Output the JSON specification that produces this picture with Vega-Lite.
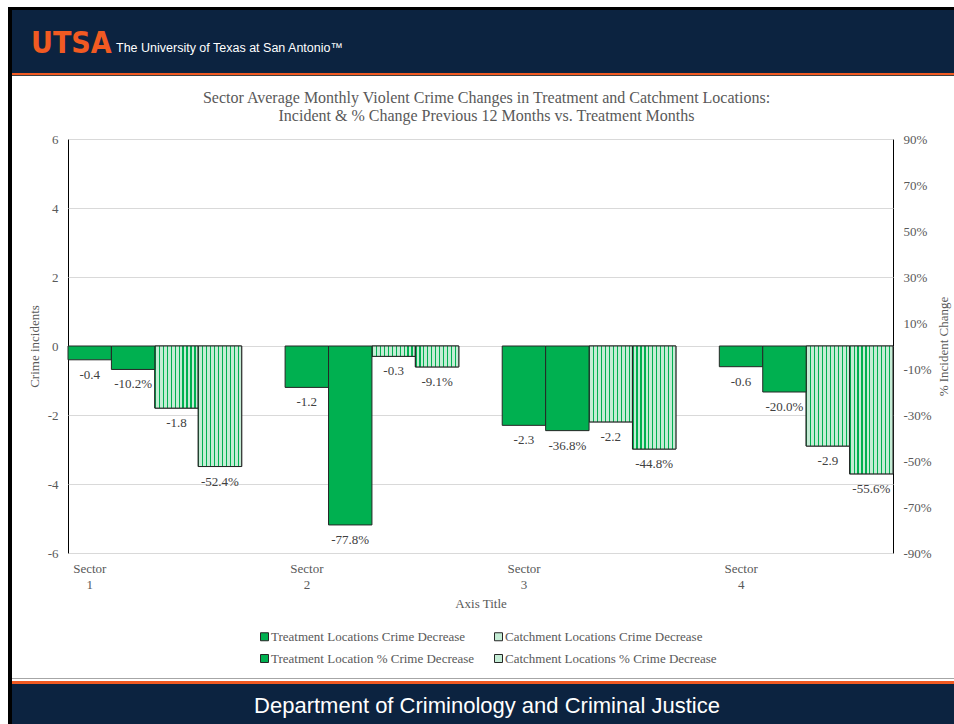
{
  "$schema": "https://vega.github.io/schema/vega-lite/v6.json",
  "background": "white",
  "padding": {"left": 8, "top": 7, "right": 0, "bottom": 0},
  "spacing": 0,
  "config": {
    "locale": {"number": {"decimal": ".", "thousands": ",", "grouping": [3], "currency": ["$", ""], "minus": "-"}},
    "view": {"stroke": "#000000", "strokeWidth": 1},
    "axis": {"labelFont": "Liberation Serif, Times New Roman, serif", "titleFont": "Liberation Serif, Times New Roman, serif", "labelColor": "#595959", "titleColor": "#595959", "labelFontSize": 13, "titleFontSize": 13, "titleFontWeight": "normal", "domain": false, "ticks": false},
    "legend": {"labelFont": "Liberation Serif, Times New Roman, serif", "labelFontSize": 13, "labelColor": "#595959", "symbolType": "square", "symbolSize": 64, "symbolStrokeColor": "#262626", "symbolStrokeWidth": 1, "labelLimit": 0}
  },
  "datasets": {
    "counts": [
      {"sector": "1", "grp": "TC", "series": "Treatment Locations Crime Decrease", "value": -0.4},
      {"sector": "1", "grp": "CC", "series": "Catchment Locations Crime Decrease", "value": -1.8},
      {"sector": "2", "grp": "TC", "series": "Treatment Locations Crime Decrease", "value": -1.2},
      {"sector": "2", "grp": "CC", "series": "Catchment Locations Crime Decrease", "value": -0.3},
      {"sector": "3", "grp": "TC", "series": "Treatment Locations Crime Decrease", "value": -2.3},
      {"sector": "3", "grp": "CC", "series": "Catchment Locations Crime Decrease", "value": -2.2},
      {"sector": "4", "grp": "TC", "series": "Treatment Locations Crime Decrease", "value": -0.6},
      {"sector": "4", "grp": "CC", "series": "Catchment Locations Crime Decrease", "value": -2.9}
    ],
    "pcts": [
      {"sector": "1", "grp": "TP", "series": "Treatment Location % Crime Decrease", "value": -0.102},
      {"sector": "1", "grp": "CP", "series": "Catchment Locations % Crime Decrease", "value": -0.524},
      {"sector": "2", "grp": "TP", "series": "Treatment Location % Crime Decrease", "value": -0.778},
      {"sector": "2", "grp": "CP", "series": "Catchment Locations % Crime Decrease", "value": -0.091},
      {"sector": "3", "grp": "TP", "series": "Treatment Location % Crime Decrease", "value": -0.368},
      {"sector": "3", "grp": "CP", "series": "Catchment Locations % Crime Decrease", "value": -0.448},
      {"sector": "4", "grp": "TP", "series": "Treatment Location % Crime Decrease", "value": -0.2},
      {"sector": "4", "grp": "CP", "series": "Catchment Locations % Crime Decrease", "value": -0.556}
    ]
  },
  "hconcat": [
    {"width": 4, "height": 717, "data": {"values": []}, "mark": "point", "view": {"fill": "#000000", "stroke": null}},
    {
      "spacing": 0,
      "vconcat": [
        {"width": 942, "height": 3, "data": {"values": []}, "mark": "point", "view": {"fill": "#000000", "stroke": null}},
        {
          "spacing": 0,
          "hconcat": [
            {"width": 104, "height": 63, "data": {"values": []}, "mark": "point", "view": {"fill": "#0c2340", "stroke": null},
             "title": {"text": "UTSA", "font": "Liberation Sans Narrow, DejaVu Sans Condensed, Roboto Condensed, Liberation Sans, sans-serif", "fontSize": 30, "fontWeight": "bold", "color": "#f15a22", "anchor": "start", "frame": "group", "orient": "top", "baseline": "alphabetic", "offset": -73, "dx": 19}},
            {"width": 838, "height": 63, "data": {"values": []}, "mark": "point", "view": {"fill": "#0c2340", "stroke": null},
             "title": {"text": "The University of Texas at San Antonio™", "font": "Liberation Sans, Arial, sans-serif", "fontSize": 12.5, "fontWeight": "normal", "color": "#ffffff", "anchor": "start", "frame": "group", "orient": "top", "baseline": "alphabetic", "offset": -54.5, "dx": 0}}
          ]
        },
        {"width": 942, "height": 2, "data": {"values": []}, "mark": "point", "view": {"fill": "#f15a22", "stroke": null}},
        {"width": 942, "height": 1, "data": {"values": []}, "mark": "point", "view": {"fill": "#404040", "stroke": null}},
        {"width": 942, "height": 13, "data": {"values": []}, "mark": "point", "view": {"stroke": null}},
        {
          "spacing": 0,
          "hconcat": [
            {"width": 15, "height": 10, "data": {"values": []}, "mark": "point", "view": {"stroke": null}},
            {
              "width": 825,
              "height": 414,
              "title": {"text": ["Sector Average Monthly Violent Crime Changes in Treatment and Catchment Locations:", "Incident & % Change Previous 12 Months vs. Treatment Months"], "font": "Liberation Serif, Times New Roman, serif", "fontSize": 16, "fontWeight": "normal", "color": "#595959", "lineHeight": 18, "offset": 9, "anchor": "middle", "frame": "group", "dx": 6},
              "encoding": {
                "x": {"field": "sector", "type": "nominal", "scale": {"paddingInner": 0.2, "paddingOuter": 0},
                      "axis": {"title": "Axis Title", "labelAngle": 0, "labelOffset": -65, "labelPadding": 9, "labelLineHeight": 16, "labelExpr": "['Sector', datum.label]", "titlePadding": 6}},
                "xOffset": {"field": "grp", "type": "nominal", "scale": {"domain": ["TC", "TP", "CC", "CP"], "paddingInner": 0, "paddingOuter": 0}}
              },
              "layer": [
                {
                  "data": {"name": "counts"},
                  "encoding": {
                    "y": {"field": "value", "type": "quantitative", "scale": {"domain": [-6, 6], "nice": false, "zero": false},
                          "axis": {"title": "Crime incidents", "values": [-6, -4, -2, 0, 2, 4, 6], "grid": true, "gridColor": "#d9d9d9", "labelPadding": 10, "titlePadding": 6}}
                  },
                  "layer": [
                    {"mark": {"type": "bar", "stroke": "#262626", "strokeWidth": 1},
                     "encoding": {"color": {"field": "series", "type": "nominal",
                        "scale": {"domain": ["Treatment Locations Crime Decrease", "Treatment Location % Crime Decrease", "Catchment Locations Crime Decrease", "Catchment Locations % Crime Decrease"], "range": ["#00b050", "#00b050", "#c4ecd5", "#c4ecd5"]},
                        "legend": {"title": null, "orient": "none", "legendX": 250, "legendY": 623, "columns": 2, "columnPadding": 17, "rowPadding": 8, "labelOffset": 0}}}},
                    {"transform": [{"filter": "datum.grp == 'CC'"}],
                     "mark": {"type": "bar", "stroke": "#262626", "strokeWidth": 1,
                       "fill": {"gradient": "linear", "x1": 0, "y1": 0, "x2": 1, "y2": 0, "stops": [
                         {"offset": 0, "color": "#00b050"}, {"offset": 0.0273, "color": "#00b050"}, {"offset": 0.0273, "color": "#c4ecd5"}, {"offset": 0.0909, "color": "#c4ecd5"},
                         {"offset": 0.0909, "color": "#00b050"}, {"offset": 0.1182, "color": "#00b050"}, {"offset": 0.1182, "color": "#c4ecd5"}, {"offset": 0.1818, "color": "#c4ecd5"},
                         {"offset": 0.1818, "color": "#00b050"}, {"offset": 0.2091, "color": "#00b050"}, {"offset": 0.2091, "color": "#c4ecd5"}, {"offset": 0.2727, "color": "#c4ecd5"},
                         {"offset": 0.2727, "color": "#00b050"}, {"offset": 0.3, "color": "#00b050"}, {"offset": 0.3, "color": "#c4ecd5"}, {"offset": 0.3636, "color": "#c4ecd5"},
                         {"offset": 0.3636, "color": "#00b050"}, {"offset": 0.3909, "color": "#00b050"}, {"offset": 0.3909, "color": "#c4ecd5"}, {"offset": 0.4545, "color": "#c4ecd5"},
                         {"offset": 0.4545, "color": "#00b050"}, {"offset": 0.4818, "color": "#00b050"}, {"offset": 0.4818, "color": "#c4ecd5"}, {"offset": 0.5455, "color": "#c4ecd5"},
                         {"offset": 0.5455, "color": "#00b050"}, {"offset": 0.5727, "color": "#00b050"}, {"offset": 0.5727, "color": "#c4ecd5"}, {"offset": 0.6364, "color": "#c4ecd5"},
                         {"offset": 0.6364, "color": "#00b050"}, {"offset": 0.6636, "color": "#00b050"}, {"offset": 0.6636, "color": "#c4ecd5"}, {"offset": 0.7273, "color": "#c4ecd5"},
                         {"offset": 0.7273, "color": "#00b050"}, {"offset": 0.7545, "color": "#00b050"}, {"offset": 0.7545, "color": "#c4ecd5"}, {"offset": 0.8182, "color": "#c4ecd5"},
                         {"offset": 0.8182, "color": "#00b050"}, {"offset": 0.8455, "color": "#00b050"}, {"offset": 0.8455, "color": "#c4ecd5"}, {"offset": 0.9091, "color": "#c4ecd5"},
                         {"offset": 0.9091, "color": "#00b050"}, {"offset": 0.9364, "color": "#00b050"}, {"offset": 0.9364, "color": "#c4ecd5"}, {"offset": 1, "color": "#c4ecd5"}
                       ]}}},
                    {"mark": {"type": "text", "baseline": "middle", "dy": 15, "font": "Liberation Serif, Times New Roman, serif", "fontSize": 13, "color": "#404040"},
                     "encoding": {"text": {"field": "value", "type": "quantitative", "format": ".1f"}}}
                  ]
                },
                {
                  "data": {"name": "pcts"},
                  "encoding": {
                    "y": {"field": "value", "type": "quantitative", "scale": {"domain": [-0.9, 0.9], "nice": false, "zero": false},
                          "axis": {"orient": "right", "title": "% Incident Change", "values": [-0.9, -0.7, -0.5, -0.3, -0.1, 0.1, 0.3, 0.5, 0.7, 0.9], "format": ".0%", "grid": false, "labelPadding": 10, "titlePadding": 6, "titleAngle": 270, "titleBaseline": "top"}}
                  },
                  "layer": [
                    {"mark": {"type": "bar", "stroke": "#262626", "strokeWidth": 1},
                     "encoding": {"color": {"field": "series", "type": "nominal",
                        "scale": {"domain": ["Treatment Locations Crime Decrease", "Treatment Location % Crime Decrease", "Catchment Locations Crime Decrease", "Catchment Locations % Crime Decrease"], "range": ["#00b050", "#00b050", "#c4ecd5", "#c4ecd5"]},
                        "legend": {"title": null, "orient": "none", "legendX": 250, "legendY": 623, "columns": 2, "columnPadding": 17, "rowPadding": 8, "labelOffset": 0}}}},
                    {"transform": [{"filter": "datum.grp == 'CP'"}],
                     "mark": {"type": "bar", "stroke": "#262626", "strokeWidth": 1,
                       "fill": {"gradient": "linear", "x1": 0, "y1": 0, "x2": 1, "y2": 0, "stops": [
                         {"offset": 0, "color": "#00b050"}, {"offset": 0.0273, "color": "#00b050"}, {"offset": 0.0273, "color": "#c4ecd5"}, {"offset": 0.0909, "color": "#c4ecd5"},
                         {"offset": 0.0909, "color": "#00b050"}, {"offset": 0.1182, "color": "#00b050"}, {"offset": 0.1182, "color": "#c4ecd5"}, {"offset": 0.1818, "color": "#c4ecd5"},
                         {"offset": 0.1818, "color": "#00b050"}, {"offset": 0.2091, "color": "#00b050"}, {"offset": 0.2091, "color": "#c4ecd5"}, {"offset": 0.2727, "color": "#c4ecd5"},
                         {"offset": 0.2727, "color": "#00b050"}, {"offset": 0.3, "color": "#00b050"}, {"offset": 0.3, "color": "#c4ecd5"}, {"offset": 0.3636, "color": "#c4ecd5"},
                         {"offset": 0.3636, "color": "#00b050"}, {"offset": 0.3909, "color": "#00b050"}, {"offset": 0.3909, "color": "#c4ecd5"}, {"offset": 0.4545, "color": "#c4ecd5"},
                         {"offset": 0.4545, "color": "#00b050"}, {"offset": 0.4818, "color": "#00b050"}, {"offset": 0.4818, "color": "#c4ecd5"}, {"offset": 0.5455, "color": "#c4ecd5"},
                         {"offset": 0.5455, "color": "#00b050"}, {"offset": 0.5727, "color": "#00b050"}, {"offset": 0.5727, "color": "#c4ecd5"}, {"offset": 0.6364, "color": "#c4ecd5"},
                         {"offset": 0.6364, "color": "#00b050"}, {"offset": 0.6636, "color": "#00b050"}, {"offset": 0.6636, "color": "#c4ecd5"}, {"offset": 0.7273, "color": "#c4ecd5"},
                         {"offset": 0.7273, "color": "#00b050"}, {"offset": 0.7545, "color": "#00b050"}, {"offset": 0.7545, "color": "#c4ecd5"}, {"offset": 0.8182, "color": "#c4ecd5"},
                         {"offset": 0.8182, "color": "#00b050"}, {"offset": 0.8455, "color": "#00b050"}, {"offset": 0.8455, "color": "#c4ecd5"}, {"offset": 0.9091, "color": "#c4ecd5"},
                         {"offset": 0.9091, "color": "#00b050"}, {"offset": 0.9364, "color": "#00b050"}, {"offset": 0.9364, "color": "#c4ecd5"}, {"offset": 1, "color": "#c4ecd5"}
                       ]}}},
                    {"mark": {"type": "text", "baseline": "middle", "dy": 15, "font": "Liberation Serif, Times New Roman, serif", "fontSize": 13, "color": "#404040"},
                     "encoding": {"text": {"field": "value", "type": "quantitative", "format": ".1%"}}}
                  ]
                }
              ],
              "resolve": {"scale": {"y": "independent"}}
            }
          ]
        },
        {"width": 942, "height": 67, "data": {"values": []}, "mark": "point", "view": {"stroke": null}},
        {"width": 942, "height": 1, "data": {"values": []}, "mark": "point", "view": {"fill": "#a6a6a6", "stroke": null}},
        {"width": 942, "height": 2, "data": {"values": []}, "mark": "point", "view": {"stroke": null}},
        {"width": 942, "height": 3, "data": {"values": []}, "mark": "point", "view": {"fill": "#f15a22", "stroke": null}},
        {"width": 942, "height": 41, "data": {"values": []}, "mark": "point", "view": {"fill": "#0c2340", "stroke": null},
         "title": {"text": "Department of Criminology and Criminal Justice", "font": "Liberation Sans, Arial, sans-serif", "fontSize": 22, "fontWeight": "normal", "color": "#ffffff", "anchor": "middle", "frame": "group", "orient": "top", "baseline": "alphabetic", "offset": -51, "dx": 4}}
      ]
    }
  ]
}
